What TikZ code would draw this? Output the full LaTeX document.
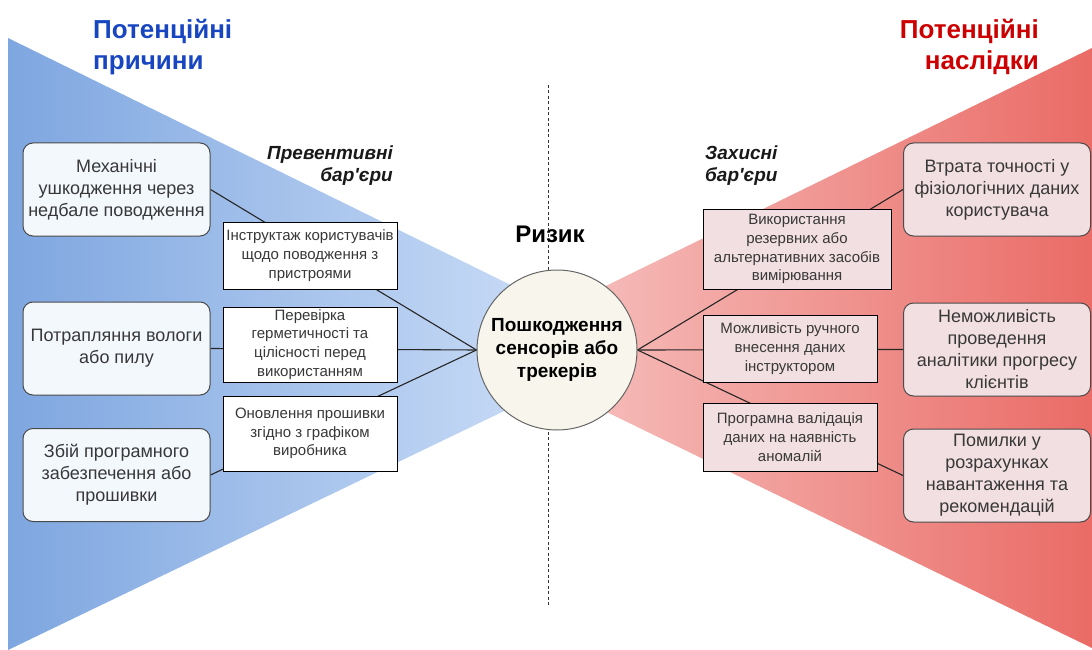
\documentclass[tikz,border=0pt]{standalone}
\usepackage{fontspec}
\setmainfont{Liberation Sans}
\usetikzlibrary{backgrounds}
\definecolor{blueL}{HTML}{7EA6E0}
\definecolor{blueR}{HTML}{D6E5FA}
\definecolor{redL}{HTML}{F8CECC}
\definecolor{redR}{HTML}{EA6B66}
\definecolor{blueTitle}{HTML}{1846C0}
\definecolor{redTitle}{HTML}{CC0000}
\definecolor{causeFill}{HTML}{F3F8FD}
\definecolor{consFill}{HTML}{F2DFE1}
\definecolor{boxBorder}{HTML}{4A4A4A}
\definecolor{boxText}{HTML}{383838}
\definecolor{circFill}{HTML}{F8F6EC}
\definecolor{circBorder}{HTML}{666666}
\pgfdeclarelayer{back}
\pgfdeclarelayer{links}
\pgfsetlayers{back,links,main}
\newcommand{\apos}{\XeTeXglyph\XeTeXcharglyph"0027\relax}
\begin{document}
\begin{tikzpicture}[x=1pt,y=-1pt,
  outcome/.style={draw=boxBorder, line width=1pt, rounded corners=10pt,
    minimum width=187pt, minimum height=93pt, inner sep=0pt, align=center,
    text=boxText, font=\fontsize{18}{22}\selectfont},
  causebox/.style={outcome, fill=causeFill},
  consbox/.style={outcome, fill=consFill},
  barrier/.style={draw=black, line width=1pt, inner sep=0pt, align=center,
    text=boxText, minimum width=174pt, font=\fontsize{15}{18.8}\selectfont},
  lbar/.style={barrier, fill=white},
  rbar/.style={barrier, fill=consFill},
  link/.style={draw=black!85, line width=1.1pt},
  title/.style={font=\fontsize{26}{31}\selectfont\bfseries, inner sep=0pt},
  barlabel/.style={font=\fontsize{19}{22}\selectfont\bfseries\itshape, inner sep=0pt, text=black!90}
]
\useasboundingbox (0,0) rectangle (1092,650);

% wedges
\begin{pgfonlayer}{back}
  \shade[left color=blueL, right color=blueR] (8,38) -- (637,347) -- (8,650) -- cycle;
  \shade[left color=redL, right color=redR] (477,349) -- (1092,48) -- (1092,648) -- cycle;
\end{pgfonlayer}

% titles
\node[title, text=blueTitle, anchor=base west] (tl1) at (93,38.5) {Потенційні};
\node[title, text=blueTitle, anchor=base west] (tl2) at (93,70) {причини};
\node[title, text=redTitle, anchor=base east] (tr1) at (1039,38.5) {Потенційні};
\node[title, text=redTitle, anchor=base east] (tr2) at (1039,70) {наслідки};

% barrier labels
\node[barlabel, anchor=base east] (pl1) at (393,159) {Превентивні};
\node[barlabel, anchor=base east] (pl2) at (393,181) {бар\apos єри};
\node[barlabel, anchor=base west] (zl1) at (705,159) {Захисні};
\node[barlabel, anchor=base west] (zl2) at (705,181) {бар\apos єри};

% risk
\node[font=\fontsize{24}{28}\selectfont\bfseries, inner sep=0pt, anchor=base] (rz) at (550,242) {Ризик};
\node[circle, draw=circBorder, line width=1pt, fill=circFill, minimum size=160pt, inner sep=0pt,
  align=center, font=\fontsize{19}{23}\selectfont\bfseries] (risk) at (557,350)
  {Пошкодження\\сенсорів або\\трекерів};

% causes
\node[causebox] (c1) at (116.5,189.5) {Механічні\\ушкодження через\\недбале поводження};
\node[causebox] (c2) at (116.5,348.5) {Потрапляння вологи\\або пилу};
\node[causebox] (c3) at (116.5,475) {Збій програмного\\забезпечення або\\прошивки};

% consequences
\node[consbox] (k1) at (997,189.5) {Втрата точності у\\фізіологічних даних\\користувача};
\node[consbox] (k2) at (997,349.5) {Неможливість\\проведення\\аналітики прогресу\\клієнтів};
\node[consbox] (k3) at (997,475.5) {Помилки у\\розрахунках\\навантаження та\\рекомендацій};

% preventive barriers
\node[lbar, minimum height=67pt] (b1) at (310,255.5) {Інструктаж користувачів\\щодо поводження з\\пристроями};
\node[lbar, minimum height=75pt] (b2) at (310,344.5) {Перевірка\\герметичності та\\цілісності перед\\використанням};
\node[lbar, minimum height=75pt] (b3) at (310,433.5) {Оновлення прошивки\\згідно з графіком\\виробника};

% protective barriers
\node[rbar, minimum width=188pt, minimum height=80pt] (p1) at (797,249) {Використання\\резервних або\\альтернативних засобів\\вимірювання};
\node[rbar, minimum height=67pt] (p2) at (790,348.5) {Можливість ручного\\внесення даних\\інструктором};
\node[rbar, minimum height=68pt] (p3) at (790,437) {Програмна валідація\\даних на наявність\\аномалій};

% dashed divider and links
\coordinate (dtop) at (548,85);
\coordinate (dbot) at (548,605);
\begin{pgfonlayer}{links}
  \draw[black!80, line width=0.8pt, dash pattern=on 3pt off 2.5pt] (dtop) -- (dbot);
  \draw[link] (c1.east) -- (risk.west);
  \draw[link] (c2.east) -- (risk.west);
  \draw[link] (c3.east) -- (risk.west);
  \draw[link] (risk.east) -- (k1.west);
  \draw[link] (risk.east) -- (k2.west);
  \draw[link] (risk.east) -- (k3.west);
\end{pgfonlayer}
\end{tikzpicture}
\end{document}
